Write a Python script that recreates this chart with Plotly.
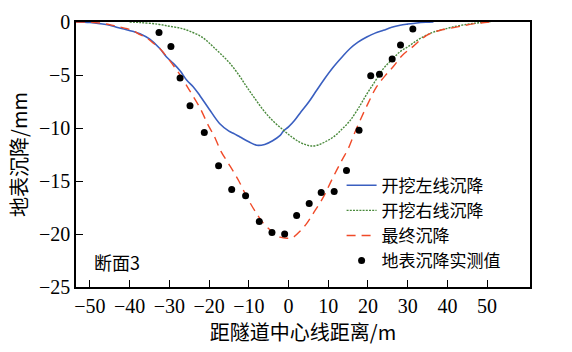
import plotly.graph_objects as go

# Left-line excavation settlement (blue, solid)
left_x = [-53.5, -50, -47.5, -45, -43.3, -41, -39, -37.4, -35, -32.4, -30.7, -29, -27.3, -25.6, -24,
          -22.3, -20, -17.3, -15, -13.9, -12.2, -10, -8, -6, -4, -2.1, -1.3, 0, 1.5, 2.9, 5, 7.1, 9,
          11.3, 13.5, 15.5, 17.5, 19.7, 21.8, 23.9, 26, 28.1, 30, 32.3, 34.5, 36.5]
left_y = [0, -0.05, -0.15, -0.3, -0.5, -0.7, -0.9, -1.1, -1.6, -2.5, -3.3, -3.9, -4.6, -5.5, -6.1,
          -6.95, -8.2, -9.6, -10.3, -10.5, -10.85, -11.3, -11.63, -11.55, -11.2, -10.7, -10.3, -9.9,
          -9.3, -8.6, -7.6, -6.44, -5.4, -4.25, -3.3, -2.5, -1.9, -1.42, -1.05, -0.78, -0.5, -0.31,
          -0.2, -0.09, -0.03, 0]

# Right-line excavation settlement (green, dotted)
right_x = [-40, -37.4, -33, -30, -27, -25, -22.3, -20.5, -18.9, -16.8, -14.7, -12.5, -10.5, -8.5,
           -6.3, -4, -1.3, 1, 2.9, 4.5, 5.8, 7.5, 9.5, 11.3, 13.5, 15.5, 17.5, 19.7, 21.8, 23.9, 26,
           28.1, 30.2, 32.3, 34.4, 36.5, 38.5, 41, 44.9, 48, 50.8]
right_y = [0, -0.05, -0.2, -0.4, -0.6, -0.85, -1.3, -1.8, -2.36, -3.1, -3.92, -5.0, -6.13, -7.2,
           -8.33, -9.3, -10.2, -10.9, -11.35, -11.6, -11.7, -11.6, -11.25, -10.85, -10.1, -9.3,
           -8.2, -6.8, -5.6, -4.4, -3.55, -2.8, -2.3, -1.75, -1.3, -0.95, -0.75, -0.5, -0.22,
           -0.07, 0]

# Final settlement (red, dashed)
final_x = [-53.5, -50, -47.5, -45, -43.3, -41, -39, -37.4, -35.7, -34, -32.4, -30, -27.3, -25,
           -22.3, -20, -18.9, -17, -14.7, -12.5, -10.5, -8.5, -6.3, -4, -2.1, 0, 1.2, 3, 4.6, 6.5,
           8.8, 10.5, 12.1, 13.5, 15.1, 16.5, 18, 20, 22.2, 24.7, 26.4, 28.5, 31.4, 33.5, 35.6, 38,
           40.7, 44, 47, 50.8]
final_y = [0, -0.03, -0.1, -0.25, -0.4, -0.6, -0.85, -1.2, -1.5, -2.0, -2.5, -3.6, -5.0, -6.4,
           -8.1, -9.9, -10.6, -12.2, -13.6, -15.0, -16.5, -17.8, -19.0, -19.8, -20.3, -20.4, -20.3,
           -19.7, -19.0, -17.9, -16.5, -15.2, -14.0, -13.0, -11.9, -10.6, -9.3, -7.7, -6.1, -4.9,
           -4.2, -3.2, -2.3, -1.6, -1.1, -0.8, -0.6, -0.35, -0.15, 0]

# Measured surface settlement (black dots)
meas_x = [-32.6, -29.6, -27.3, -24.8, -21.2, -17.6, -14.3, -10.8, -7.35, -4.16, -0.97, 2.05, 5.21,
          8.23, 11.5, 14.6, 17.76, 20.7, 22.9, 26.1, 28.2, 31.3]
meas_y = [-1.0, -2.32, -5.28, -7.89, -10.43, -13.57, -15.81, -16.38, -18.83, -19.87, -20.0, -18.26,
          -17.13, -16.09, -16.0, -14.02, -10.21, -5.06, -4.93, -3.49, -2.17, -0.66]

x_ticks = [-50, -40, -30, -20, -10, 0, 10, 20, 30, 40, 50]
x_tick_text = ["\u221250", "\u221240", "\u221230", "\u221220", "\u221210", "0", "10", "20", "30", "40", "50"]
y_ticks = [0, -5, -10, -15, -20, -25]
y_tick_text = ["0", "\u22125", "\u221210", "\u221215", "\u221220", "\u221225"]

cjk = "Noto Sans CJK SC"
serif = "Liberation Serif"

fig = go.Figure()
fig.add_trace(go.Scatter(x=left_x, y=left_y, mode="lines", name="开挖左线沉降",
                         line=dict(color="#3a5fc0", width=1.6, shape="spline")))
fig.add_trace(go.Scatter(x=right_x, y=right_y, mode="lines", name="开挖右线沉降",
                         line=dict(color="#4a8a3c", width=1.4, dash="2px,1.2px", shape="spline")))
fig.add_trace(go.Scatter(x=final_x, y=final_y, mode="lines", name="最终沉降",
                         line=dict(color="#f04a28", width=1.4, dash="9px,6px", shape="spline")))
fig.add_trace(go.Scatter(x=meas_x, y=meas_y, mode="markers", name="地表沉降实测值",
                         marker=dict(color="black", size=7)))

fig.add_annotation(x=0.035, y=0.095, xref="paper", yref="paper", text="断面3", showarrow=False,
                   xanchor="left", yanchor="middle",
                   font=dict(family=cjk, size=18, color="black"))

axis_common = dict(showline=True, linecolor="black", linewidth=1.5, mirror=True, ticks="inside",
                   ticklen=7, tickwidth=1.2, tickcolor="black", showgrid=False, zeroline=False,
                   tickfont=dict(family=serif, size=20, color="black"))

fig.update_xaxes(range=[-53.5, 60.8], tickvals=x_ticks, ticktext=x_tick_text,
                 title=dict(text="距隧道中心线距离/m", font=dict(family=cjk, size=20, color="black"), standoff=8),
                 **axis_common)
fig.update_yaxes(range=[-25, 0], tickvals=y_ticks, ticktext=y_tick_text,
                 title=dict(text="地表沉降/mm", font=dict(family=cjk, size=20, color="black"), standoff=6),
                 **axis_common)

fig.update_layout(
    width=572, height=352,
    margin=dict(l=76, r=42, t=22, b=65),
    plot_bgcolor="white", paper_bgcolor="white",
    showlegend=True,
    legend=dict(x=0.585, y=0.45, xanchor="left", yanchor="top", bgcolor="rgba(0,0,0,0)",
                font=dict(family=cjk, size=17, color="black"), tracegroupgap=0, itemwidth=30),
)

fig.write_html("out.html")
